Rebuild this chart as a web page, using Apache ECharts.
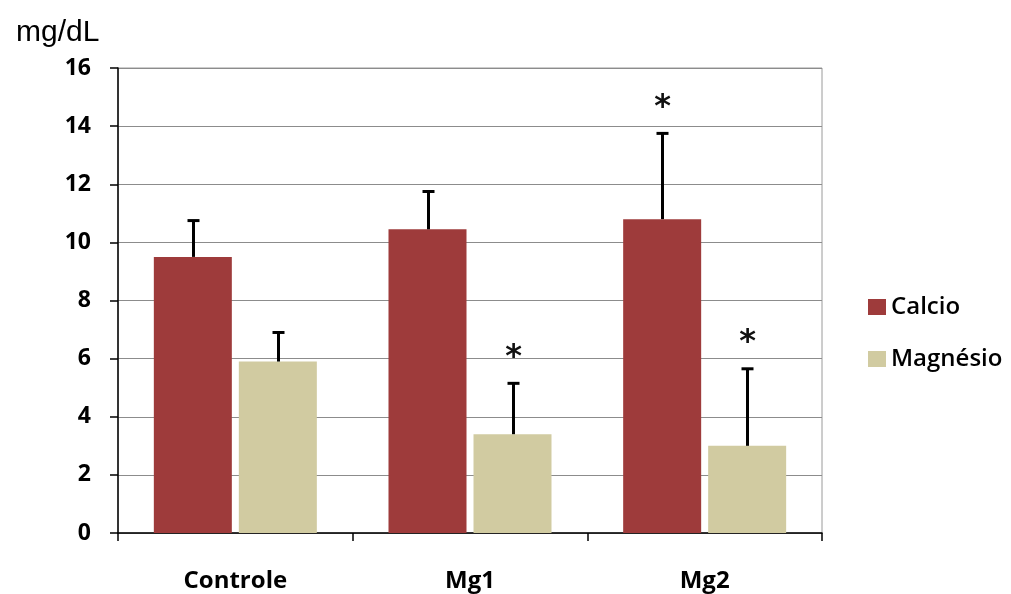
<!DOCTYPE html>
<html>
<head>
<meta charset="utf-8">
<script src="https://cdn.jsdelivr.net/npm/echarts@6/dist/echarts.min.js"></script>
<style>
  html, body { margin: 0; padding: 0; background: #fff; }
  #chart { width: 1011px; height: 594px; }
</style>
</head>
<body>
<div id="chart"></div>
<script>
// Serum levels (mg/dL) per group: means, standard deviations and significance marks
const categories = ['Controle', 'Mg1', 'Mg2'];
const calcioMean = [9.5, 10.45, 10.8];
const calcioSD = [1.25, 1.3, 2.95];
const calcioSig = [false, false, true];
const magnesioMean = [5.9, 3.4, 3.0];
const magnesioSD = [1.0, 1.75, 2.65];
const magnesioSig = [false, true, true];
const yTicks = [0, 2, 4, 6, 8, 10, 12, 14, 16];

const COLOR_CA = '#9e3b3b';
const COLOR_MG = '#d1cba1';
const BAR_W = 78;
const BAR_GAP_PX = 7;

// Upward-only error bar with cap, plus an optional asterisk above it
function errorRenderer(offset) {
  return function (params, api) {
    const idx = api.value(0);
    const mean = api.value(1);
    const sd = api.value(2);
    const sig = api.value(3);
    const base = api.coord([idx, mean]);
    const top = api.coord([idx, mean + sd]);
    const cx = Math.round(base[0] + offset) + 0.5;
    const style = { stroke: '#000', lineWidth: 3 };
    const children = [
      { type: 'line', shape: { x1: cx, y1: base[1], x2: cx, y2: top[1] }, style: style },
      { type: 'line', shape: { x1: cx - 6, y1: top[1], x2: cx + 6, y2: top[1] }, style: style }
    ];
    if (sig) {
      children.push({
        type: 'text',
        style: {
          text: '*', x: cx, y: top[1] - 26,
          align: 'center', verticalAlign: 'middle',
          fontFamily: 'DejaVu Sans', fontWeight: 'bold', fontSize: 32, fill: '#111'
        }
      });
    }
    return { type: 'group', children: children };
  };
}

function errData(means, sds, sigs) {
  return means.map((m, i) => [i, m, sds[i], sigs[i] ? 1 : 0]);
}

const half = (BAR_W + BAR_GAP_PX) / 2;

const chart = echarts.init(document.getElementById('chart'), null, { renderer: 'canvas' });
chart.setOption({
  animation: false,
  backgroundColor: '#fff',
  title: {
    text: 'mg/dL', left: 11, top: 13,
    textStyle: { fontFamily: 'Liberation Sans', fontSize: 30, fontWeight: 'normal', color: '#000' }
  },
  legend: {
    data: ['Calcio', 'Magnésio'],
    orient: 'vertical', left: 863, top: 290,
    icon: 'rect', itemWidth: 18, itemHeight: 16, itemGap: 28,
    textStyle: { fontFamily: 'Open Sans', fontWeight: 600, fontSize: 24, color: '#000', lineHeight: 24 }
  },
  grid: {
    left: 118, right: 189, top: 68, bottom: 61,
    show: true, borderColor: '#9a9a9a', borderWidth: 1
  },
  xAxis: {
    type: 'category',
    data: categories,
    axisLine: { lineStyle: { color: '#000', width: 1.5 } },
    axisTick: { show: true, length: 8, lineStyle: { color: '#000', width: 1.5 } },
    axisLabel: {
      margin: 36, fontFamily: 'Open Sans', fontWeight: 'bold', fontSize: 24, color: '#000'
    }
  },
  yAxis: {
    type: 'value',
    min: yTicks[0], max: yTicks[yTicks.length - 1], interval: 2,
    axisLine: { show: true, lineStyle: { color: '#000', width: 1.5 } },
    axisTick: { show: true, length: 8, lineStyle: { color: '#000', width: 1.5 } },
    splitLine: { lineStyle: { color: '#8c8c8c', width: 1 } },
    axisLabel: {
      margin: 27, fontFamily: 'Open Sans', fontWeight: 'bold', fontSize: 23, color: '#000'
    }
  },
  series: [
    {
      name: 'Calcio', type: 'bar', data: calcioMean,
      barWidth: BAR_W, barGap: (BAR_GAP_PX / BAR_W * 100) + '%',
      itemStyle: { color: COLOR_CA }
    },
    {
      name: 'Magnésio', type: 'bar', data: magnesioMean,
      barWidth: BAR_W,
      itemStyle: { color: COLOR_MG }
    },
    {
      name: 'Calcio DP', type: 'custom', z: 5,
      renderItem: errorRenderer(-half),
      data: errData(calcioMean, calcioSD, calcioSig)
    },
    {
      name: 'Magnésio DP', type: 'custom', z: 5,
      renderItem: errorRenderer(half),
      data: errData(magnesioMean, magnesioSD, magnesioSig)
    }
  ]
});
</script>
</body>
</html>
